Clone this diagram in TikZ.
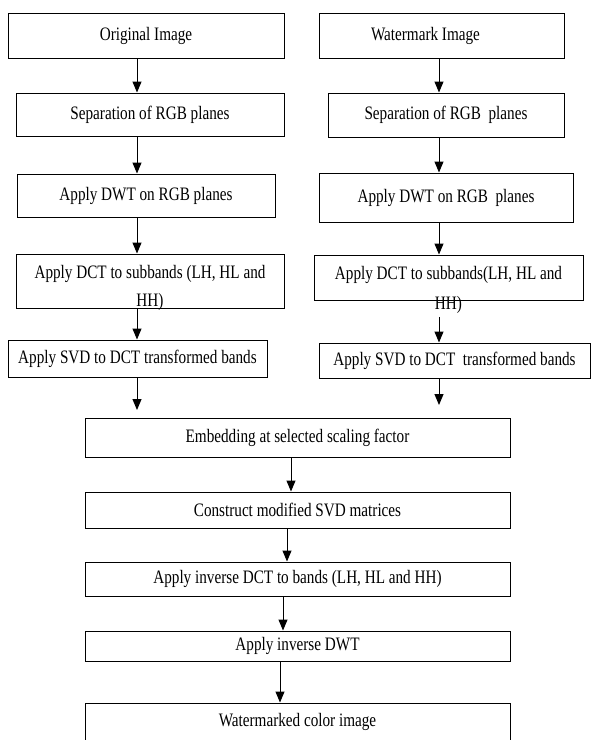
\documentclass[tikz,border=0pt]{standalone}
\usepackage{fontspec}
\setmainfont{Liberation Serif}[FakeStretch=0.8]
\usetikzlibrary{arrows.meta}
\begin{document}
\begin{tikzpicture}[x=1pt,y=-1pt,
  font=\fontsize{19}{24}\selectfont,
  box/.style={draw, line width=1pt, inner sep=0pt, align=center},
  txt/.style={inner sep=0pt, align=center},
  arr/.style={-{Triangle[length=11pt,width=9pt]}, line width=1pt}]
\clip (0,0) rectangle (592,740);
% left column
\node[box,minimum width=276pt,minimum height=45pt] (L1) at (146,35.5) {Original Image};
\node[box,minimum width=268pt,minimum height=43pt] (L2) at (150,114.5) {Separation of RGB planes};
\node[box,minimum width=258pt,minimum height=43pt] (L3) at (146,195.5) {Apply DWT on RGB planes};
\node[box,minimum width=268pt,minimum height=54pt] (L4) at (150,281) {};
\node[txt,font=\fontsize{19}{28}\selectfont] (L4t) at (150,288) {Apply DCT to subbands (LH, HL and\\HH)};
\node[box,minimum width=259pt,minimum height=37pt] (L5) at (137.5,358.5) {Apply SVD to DCT transformed bands};
% right column
\node[box,minimum width=245pt,minimum height=45pt] (R1) at (441.5,35.5) {\hspace*{-32pt}Watermark Image};
\node[box,minimum width=236pt,minimum height=44pt] (R2) at (446,115) {Separation of RGB\ \ planes};
\node[box,minimum width=254pt,minimum height=49pt] (R3) at (446,197.5) {Apply DWT on RGB\ \ planes};
\node[box,minimum width=269pt,minimum height=45pt] (R4) at (448.5,277.5) {};
\node[txt,font=\fontsize{19}{30}\selectfont] (R4t) at (448.5,290) {Apply DCT to subbands(LH, HL and\\HH)};
\node[box,minimum width=271pt,minimum height=35pt] (R5) at (454.5,360.5) {Apply SVD to DCT\ \ transformed bands};
% bottom column
\node[box,minimum width=425pt,minimum height=39pt] (B1) at (297.5,437.5) {Embedding at selected scaling factor};
\node[box,minimum width=425pt,minimum height=36pt] (B2) at (297.5,510) {Construct modified SVD matrices};
\node[box,minimum width=425pt,minimum height=34pt] (B3) at (297.5,579) {Apply inverse DCT to bands (LH, HL and HH)};
\node[box,minimum width=425pt,minimum height=30pt] (B4) at (297.5,646) {Apply inverse DWT};
\node[box,minimum width=425pt,minimum height=57pt] (B5) at (297.5,731.5) {};
\node[txt] (B5t) at (297.5,722) {Watermarked color image};
% connector columns
\coordinate (cl) at (137,0);
\coordinate (cr) at (439,0);
\coordinate (c1) at (291,0);
\coordinate (c2) at (287,0);
\coordinate (c3) at (283,0);
\coordinate (c4) at (280,0);
\coordinate (el) at (137,410);
\coordinate (er) at (439,405);
\draw[arr] (L1.south -| cl) -- (L2.north -| cl);
\draw[arr] (L2.south -| cl) -- (L3.north -| cl);
\draw[arr] (L3.south -| cl) -- (L4.north -| cl);
\draw[arr] (L4.south -| cl) -- (L5.north -| cl);
\draw[arr] (L5.south -| cl) -- (el);
\draw[arr] (R1.south -| cr) -- (R2.north -| cr);
\draw[arr] (R2.south -| cr) -- (R3.north -| cr);
\draw[arr] (R3.south -| cr) -- (R4.north -| cr);
\draw[arr] ([yshift=-3pt]R4t.south -| cr) -- (R5.north -| cr);
\draw[arr] (R5.south -| cr) -- (er);
\draw[arr] (B1.south -| c1) -- (B2.north -| c1);
\draw[arr] (B2.south -| c2) -- (B3.north -| c2);
\draw[arr] (B3.south -| c3) -- (B4.north -| c3);
\draw[arr] (B4.south -| c4) -- (B5.north -| c4);
\end{tikzpicture}
\end{document}
